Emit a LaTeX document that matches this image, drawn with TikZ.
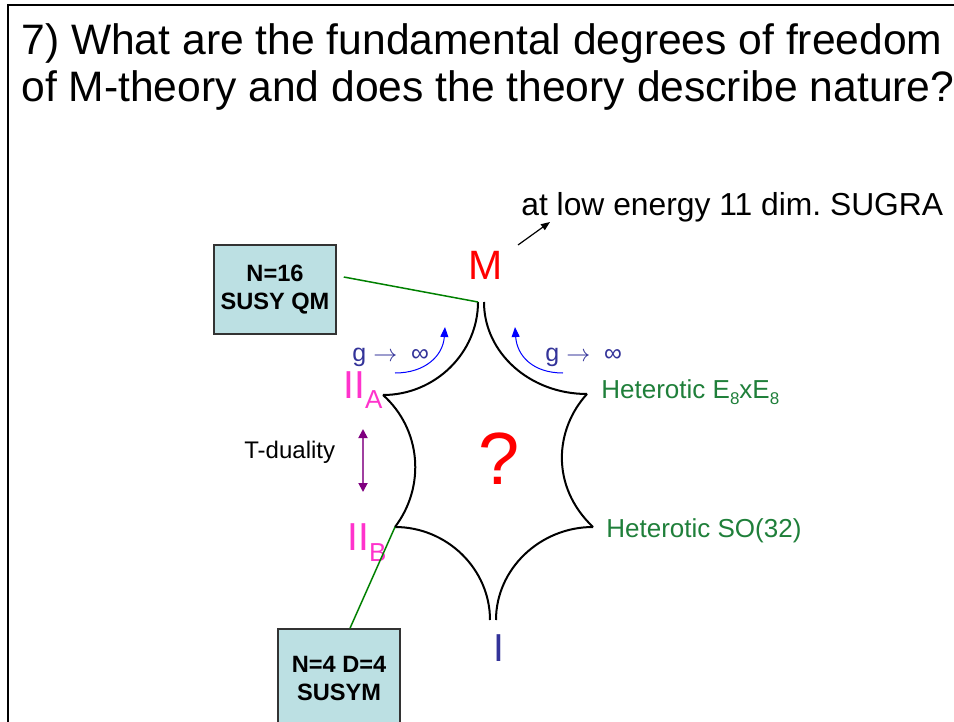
\documentclass[tikz,border=0pt]{standalone}
\usepackage{fontspec}
\setmainfont{Liberation Sans}
\frenchspacing
\usetikzlibrary{arrows.meta,positioning}
\definecolor{TypeIIPink}{HTML}{FF33CC}
\definecolor{HetGreen}{HTML}{1F7F3A}
\definecolor{TypeIBlue}{HTML}{333399}
\definecolor{LinkGreen}{HTML}{008000}
\definecolor{BoxCyan}{HTML}{BCE0E3}
\definecolor{DualPurple}{HTML}{800080}
\definecolor{DualLine}{HTML}{A040A0}

\begin{document}
\begin{tikzpicture}[
  x=0.5pt, y=-0.5pt,
  limitbox/.style={
    draw=black!80,
    line width=0.75pt,
    fill=BoxCyan,
    align=center,
    inner sep=0pt,
    minimum width=61pt,
    font=\fontsize{11.8}{14}\selectfont\bfseries
  },
  textlabel/.style={inner sep=0pt, anchor=base west},
  cusplabel/.style={inner sep=0pt, font=\fontsize{19.5}{20}\selectfont},
  hetlabel/.style={textlabel, text=HetGreen, font=\fontsize{13}{13}\selectfont},
  limitlabel/.style={textlabel, text=TypeIBlue, font=\fontsize{12.5}{12.5}\selectfont},
  starline/.style={line width=1pt, draw=black},
  linkline/.style={line width=0.75pt, draw=LinkGreen},
  limitarrow/.style={-{Triangle[length=5pt,width=4pt]}, line width=0.5pt, draw=blue},
  dualarrow/.style={{Triangle[length=4.5pt,width=4.5pt,color=DualPurple]}-{Triangle[length=4.5pt,width=4.5pt,color=DualPurple]}, line width=0.9pt, draw=DualLine},
  pointer/.style={-{Triangle[length=4.5pt,width=3.5pt]}, line width=0.6pt, draw=black}
]
\clip (0,0) rectangle (954,722);
\draw[line width=1.25pt] (8,5) rectangle (1000,1000);

\node[textlabel, font=\fontsize{21.3}{24}\selectfont] (title1) at (21,55) {7) What are the fundamental degrees of freedom};
\node[textlabel, font=\fontsize{21.3}{24}\selectfont] (title2) at (21,102) {of M-theory and does the theory describe nature?};

% cusps of the moduli space
\coordinate (mL) at (478,302);
\coordinate (mR) at (484,302);
\coordinate (iia) at (383,395);
\coordinate (iib) at (395,527);
\coordinate (iL) at (490,620);
\coordinate (iR) at (496,620);
\coordinate (hso) at (593,527);
\coordinate (he8) at (587,394);

\draw[starline] (mL) .. controls (478,353) and (435,395) .. (iia);
\draw[starline] (iia) .. controls (421,429) and (426,486) .. (iib);
\draw[starline] (iib) .. controls (447,527) and (490,569) .. (iL);
\draw[starline] (iR) .. controls (496,569) and (540,527) .. (hso);
\draw[starline] (hso) .. controls (550,486) and (555,429) .. (he8);
\draw[starline] (he8) .. controls (530,394) and (484,353) .. (mR);

\node[cusplabel, text=red, anchor=base, font=\fontsize{20.5}{21}\selectfont] (mlabel) at (486,279) {M};
\node[cusplabel, text=red, anchor=base, font=\fontsize{37}{37}\selectfont] (unknown) at (499,484) {?};
\node[cusplabel, text=TypeIIPink, anchor=base west] (iialabel) at (343,398) {II\raisebox{-5pt}{\fontsize{13}{13}\selectfont A}};
\node[cusplabel, text=TypeIIPink, anchor=base west] (iiblabel) at (347,550) {II\raisebox{-5.5pt}{\fontsize{13}{13}\selectfont B}};
\node[cusplabel, text=TypeIBlue, anchor=base] (ilabel) at (498.5,661) {I};
\node[hetlabel] (het8) at (601,398) {Heterotic E\raisebox{-3pt}{\fontsize{8.5}{8.5}\selectfont 8}xE\raisebox{-3pt}{\fontsize{8.5}{8.5}\selectfont 8}};
\node[hetlabel] (hetso) at (606,537) {Heterotic SO(32)};

\node[textlabel, font=\fontsize{15.9}{16}\selectfont] (sugra) at (521,215) {at low energy 11 dim. SUGRA};
\coordinate (lowtail) at (518,245);
\coordinate (lowtip) at (550,222);
\draw[pointer] (lowtail) -- (lowtip);

% strong coupling limits
\node[limitlabel] (gleft) at (352,361) {g $\rightarrow$\ \ ∞};
\node[limitlabel] (gright) at (545,361) {g $\rightarrow$\ \ ∞};
\coordinate (iiaflow) at (395,373);
\coordinate (mflowL) at (445,327);
\coordinate (hetflow) at (563,373);
\coordinate (mflowR) at (515,327);
\draw[limitarrow] (iiaflow) .. controls (425,373) and (443,356) .. (mflowL);
\draw[limitarrow] (hetflow) .. controls (533,373) and (517,356) .. (mflowR);

\node[textlabel, font=\fontsize{12}{12}\selectfont] (tdual) at (244,458) {T-duality};
\coordinate (tdtop) at (363,429);
\coordinate (tdbot) at (363,492);
\draw[dualarrow] (tdtop) -- (tdbot);

% dual descriptions
\node[limitbox, minimum height=44.5pt] (qmbox) at (275,289.5) {N=16\\SUSY QM};
\node[limitbox, minimum height=49pt] (ymbox) at (339,678) {N=4 D=4\\SUSYM};
\draw[linkline] ([xshift=3.5pt,yshift=6.25pt]qmbox.east) -- (mL);
\draw[linkline] ([xshift=5.5pt]ymbox.north) -- (iib);
\end{tikzpicture}
\end{document}
